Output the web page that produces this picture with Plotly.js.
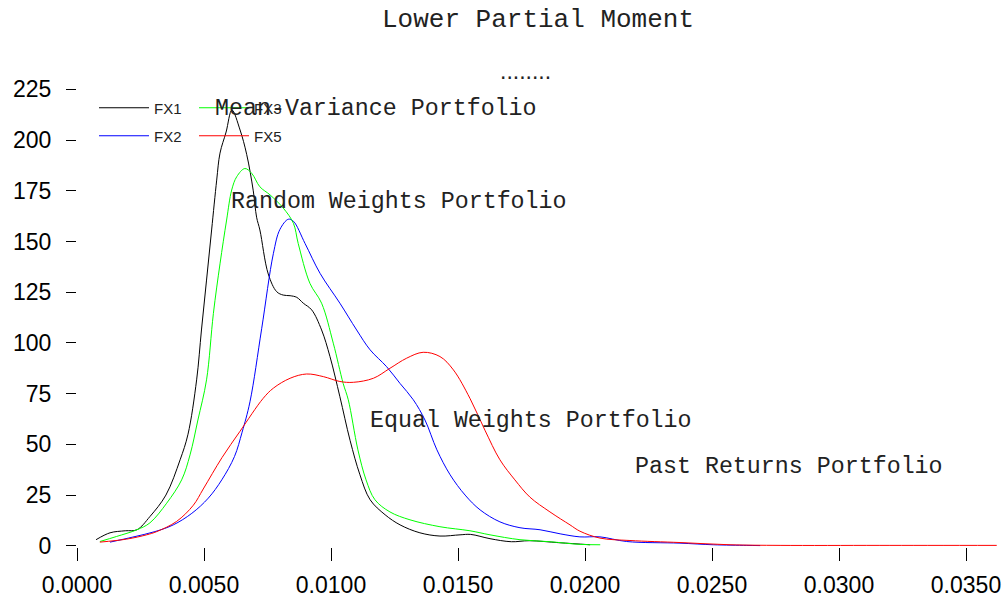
<!DOCTYPE html>
<html>
<head>
<meta charset="utf-8">
<script src="https://cdn.plot.ly/plotly-3.0.1.min.js"></script>
<style>html,body{margin:0;padding:0;background:#fff;}#chart{width:1008px;height:600px;}</style>
</head>
<body>
<div id="chart"></div>
<script>
// ---- data ----
var fx1X = [0.00075,0.0013,0.0019,0.00236,0.00287,0.0035,0.00406,0.00437,0.00471,0.0049,0.0051,0.0053,0.0055,0.00563,0.00587,0.0061,0.00642,0.00668,0.00694,0.00707,0.0072,0.00753,0.00786,0.00812,0.00839,0.00865,0.00891,0.00924,0.00963,0.00996,0.01035,0.01075,0.01114,0.01154,0.01213,0.01272,0.0135,0.01429,0.01508,0.0155,0.01626,0.0171,0.0178,0.019,0.0202];
var fx1Y = [3,6.4,7.4,7.9,14.4,25,42.4,55,81.8,106.4,131,155.7,180.3,193.6,204,214.8,205,193,175,162,155.7,134,125.3,123.6,123.3,122.5,119.6,116.3,106.4,93.3,73.5,52,35,22.7,15.3,10.3,6.4,4.8,5.4,5.6,3.5,2,2.5,1.5,0.5];

var fx2X = [0.0013,0.0022,0.00307,0.00379,0.00452,0.00517,0.0057,0.0062,0.0065,0.00681,0.00727,0.00773,0.00799,0.00832,0.00852,0.00898,0.00957,0.01035,0.01101,0.01154,0.01219,0.01272,0.01324,0.0137,0.01417,0.01469,0.01528,0.01587,0.01665,0.01744,0.01823,0.01902,0.0198,0.02059,0.02164,0.02374,0.02505,0.02637,0.0269];
var fx2Y = [1.8,4.3,7,10.3,16,23.5,32.5,44,56,71,107,144,156,161,160,149,134.3,119.6,106.4,96.6,88.3,80,72,62,47.3,35,25,17.7,11.8,8.9,7.9,5.9,4.4,4.4,2.1,1.3,0.5,0.2,0.1];

var fx3X = [0.0009,0.00156,0.00236,0.00287,0.00353,0.00412,0.00445,0.00476,0.0051,0.00537,0.00563,0.00589,0.00609,0.00629,0.00661,0.00688,0.0072,0.0076,0.00812,0.00852,0.00871,0.00917,0.00963,0.01009,0.01048,0.01068,0.01106,0.01138,0.01173,0.01232,0.01311,0.01429,0.01547,0.01626,0.01744,0.01862,0.0198,0.0206];
var fx3Y = [2.1,4.6,7.9,11.3,21,32.5,44.8,62,81.8,114.6,139,160.6,175.4,182,186,183.6,177,173,166.5,159,149,129.4,119.6,99.9,80,72,47.3,32.5,22.7,16.7,12.8,9.4,7.4,5.4,3,2,0.7,0.5];

var fx5X = [0.0009,0.00196,0.00274,0.00314,0.00392,0.00458,0.00497,0.00571,0.00642,0.00733,0.00773,0.00839,0.00904,0.0097,0.01035,0.01088,0.01167,0.01232,0.01298,0.01363,0.01429,0.01482,0.01547,0.01606,0.01665,0.01724,0.01783,0.01862,0.01941,0.0198,0.02059,0.02177,0.02374,0.02571,0.02768,0.03161,0.03621];
var fx5Y = [1.8,3.3,5.4,7,12,20,28,43.5,56.5,72.7,77.7,82.6,84.7,83.4,81,80.6,82.6,87.5,92.5,95.4,93.3,86.7,72.7,57,42.4,32.5,24,16.7,10.3,7.2,3.8,2.6,1.6,0.5,0.2,0.2,0.2];

var seriesNames = ["FX1", "FX2", "FX3", "FX5"];
var xTicks = [0, 0.005, 0.01, 0.015, 0.02, 0.025, 0.03, 0.035];
var yTicks = [0, 25, 50, 75, 100, 125, 150, 175, 200, 225];

var labelTexts = ["Mean-Variance Portfolio", "Random Weights Portfolio", "Equal Weights Portfolio", "Past Returns Portfolio", "........"];
var labelX = [0.01177, 0.01268, 0.01789, 0.02803, 0.01766];
var labelY = [215.5, 169.5, 61.5, 39, 234];

var titleText = "Lower Partial Moment";

// ---- styling ----
var MONO = "Liberation Mono, Courier New, monospace";
var SANS = "Liberation Sans, Arial, sans-serif";

function tr(x, y, name, color, leg) {
  return {x: x, y: y, name: name, type: "scatter", mode: "lines",
          line: {color: color, width: 1, shape: "spline", smoothing: 1},
          legend: leg, hoverinfo: "skip"};
}
var data = [
  tr(fx1X, fx1Y, seriesNames[0], "#000000", "legend"),
  tr(fx2X, fx2Y, seriesNames[1], "#0000ff", "legend2"),
  tr(fx3X, fx3Y, seriesNames[2], "#00ff00", "legend3"),
  tr(fx5X, fx5Y, seriesNames[3], "#ff0000", "legend4")
];

function leg(px, py) {
  return {x: px / 1008, y: 1 - py / 600, xref: "container", yref: "container",
          xanchor: "left", yanchor: "middle", orientation: "h",
          bgcolor: "rgba(0,0,0,0)", borderwidth: 0, itemwidth: 50,
          font: {family: SANS, size: 15, color: "#222"}};
}

var annotations = labelTexts.map(function (t, i) {
  var isDots = (i === 4);
  return {text: t, x: labelX[i], y: labelY[i], xref: "x", yref: "y",
          showarrow: false, xanchor: "center", yanchor: "middle",
          font: {family: isDots ? SANS : MONO, size: isDots ? 23 : 23.3, color: "#222"}};
});

var layout = {
  width: 1008, height: 600,
  paper_bgcolor: "#fff", plot_bgcolor: "#fff",
  margin: {l: 77, r: 10, t: 58.8, b: 52.8, pad: 0, autoexpand: false},
  showlegend: true,
  title: {text: titleText, x: 538 / 1008, xanchor: "center", y: 1 - 18 / 600, yanchor: "middle",
          xref: "container", yref: "container", automargin: false,
          font: {family: MONO, size: 26, color: "#222"}},
  xaxis: {range: [0, 0.03626], tickvals: xTicks, ticktext: xTicks.map(function (v) { return v.toFixed(4); }),
          ticks: "outside", ticklen: 13, tickwidth: 1, tickcolor: "#000",
          showgrid: false, zeroline: false, showline: false, ticklabelstandoff: 4, automargin: false,
          tickfont: {family: SANS, size: 23, color: "#000"}},
  yaxis: {range: [-0.6, 240], tickvals: yTicks,
          ticks: "outside", ticklen: 10, tickwidth: 1, tickcolor: "#000",
          showgrid: false, zeroline: false, showline: false, ticklabelstandoff: 10, automargin: false,
          tickfont: {family: SANS, size: 23, color: "#000"}},
  legend: leg(94, 108),
  legend2: leg(94, 136),
  legend3: leg(194, 108),
  legend4: leg(194, 136),
  annotations: annotations
};

Plotly.newPlot("chart", data, layout, {displayModeBar: false, staticPlot: true});
</script>
</body>
</html>
